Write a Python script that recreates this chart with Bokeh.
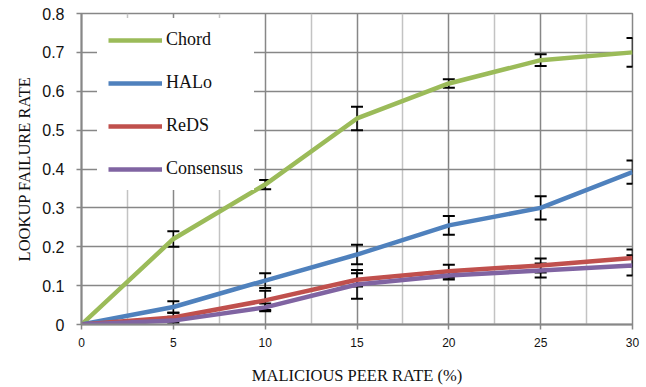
from bokeh.plotting import figure
from bokeh.models import (Range1d, FixedTicker, ColumnDataSource, Whisker, TeeHead,
                          CustomJSTickFormatter)
from bokeh.embed import file_html
from bokeh.resources import INLINE

# ---- data ----
rates = [0, 5, 10, 15, 20, 25, 30]
chord = [0, 0.22, 0.36, 0.53, 0.62, 0.68, 0.70]
chord_err = [0, 0.02, 0.012, 0.03, 0.011, 0.015, 0.037]
halo = [0, 0.045, 0.113, 0.18, 0.255, 0.30, 0.392]
halo_err = [0, 0.015, 0.019, 0.025, 0.024, 0.03, 0.03]
reds = [0, 0.018, 0.062, 0.115, 0.137, 0.152, 0.171]
reds_err = [0, 0.012, 0.025, 0.017, 0.017, 0.018, 0.022]
consensus = [0, 0.01, 0.044, 0.103, 0.126, 0.139, 0.152]
consensus_err = [0, 0.01, 0.01, 0.037, 0.01, 0.018, 0.026]

series_names = ["Chord", "HALo", "ReDS", "Consensus"]
series_vals = [chord, halo, reds, consensus]
series_errs = [chord_err, halo_err, reds_err, consensus_err]
series_colors = ["#9BBB59", "#4F81BD", "#C0504D", "#8064A2"]

x_ticks = [0, 5, 10, 15, 20, 25, 30]
x_minor = [2.5, 7.5, 12.5, 17.5, 22.5, 27.5]
y_ticks = [0, 0.1, 0.2, 0.3, 0.4, 0.5, 0.6, 0.7, 0.8]

DARK = "#878787"
LIGHT = "#c3c3c3"

p = figure(width=646, height=387, output_backend="svg", toolbar_location=None,
           x_range=Range1d(0, 30), y_range=Range1d(0, 0.8),
           min_border_left=81, min_border_right=14, min_border_top=13, min_border_bottom=63)
p.background_fill_color = "white"
p.border_fill_color = "white"
p.outline_line_color = DARK
p.outline_line_width = 1.5

p.xaxis.ticker = FixedTicker(ticks=x_ticks, minor_ticks=x_minor)
p.yaxis.ticker = FixedTicker(ticks=y_ticks)
p.yaxis.formatter = CustomJSTickFormatter(code="return tick == 0 ? '0' : tick.toFixed(1);")

p.xgrid.grid_line_color = DARK
p.xgrid.grid_line_width = 1.5
p.xgrid.minor_grid_line_color = LIGHT
p.xgrid.minor_grid_line_width = 1.5
p.ygrid.grid_line_color = DARK
p.ygrid.grid_line_width = 1.5

for ax in (p.xaxis, p.yaxis):
    ax.axis_line_color = DARK
    ax.axis_line_width = 2
    ax.major_tick_line_color = DARK
    ax.major_tick_line_width = 1.5
    ax.major_tick_out = 5
    ax.major_tick_in = 0
    ax.minor_tick_line_color = None
    ax.major_label_text_font = "Liberation Sans"
    ax.axis_label_text_font = "Liberation Serif"
    ax.axis_label_text_font_style = "normal"
    ax.axis_label_text_font_size = "16.5px"
    ax.axis_label_text_color = "#111111"
    ax.major_label_text_color = "#111111"

p.xaxis.major_label_text_font_size = "12px"
p.yaxis.major_label_text_font_size = "16px"
p.xaxis.major_label_standoff = 8
p.yaxis.major_label_standoff = 12
p.xaxis.axis_label = "MALICIOUS PEER RATE (%)"
p.yaxis.axis_label = "LOOKUP FAILURE RATE"
p.xaxis.axis_label_standoff = 16
p.yaxis.axis_label_standoff = 5

# error bars (drawn under the lines)
for vals, errs in zip(series_vals, series_errs):
    src = ColumnDataSource(dict(
        x=rates[1:],
        upper=[v + e for v, e in zip(vals[1:], errs[1:])],
        lower=[v - e for v, e in zip(vals[1:], errs[1:])],
    ))
    w = Whisker(source=src, base="x", upper="upper", lower="lower",
                line_color="black", line_width=1.5,
                upper_head=TeeHead(size=12, line_color="black", line_width=2),
                lower_head=TeeHead(size=12, line_color="black", line_width=2))
    p.add_layout(w)

for name, vals, col in zip(series_names, series_vals, series_colors):
    p.line(rates, vals, line_color=col, line_width=4.5, legend_label=name)

lg = p.legend[0]
lg.location = (16, 134)
lg.border_line_color = "white"
lg.border_line_width = 1
lg.background_fill_color = "white"
lg.background_fill_alpha = 1.0
lg.padding = 10
lg.spacing = 22
lg.glyph_width = 54
lg.glyph_height = 20
lg.label_height = 20
lg.label_standoff = 4
lg.label_text_font = "Liberation Serif"
lg.label_text_font_size = "18px"
lg.label_text_color = "#111111"
lg.margin = 0

open("out.html", "w").write(file_html(p, INLINE))
